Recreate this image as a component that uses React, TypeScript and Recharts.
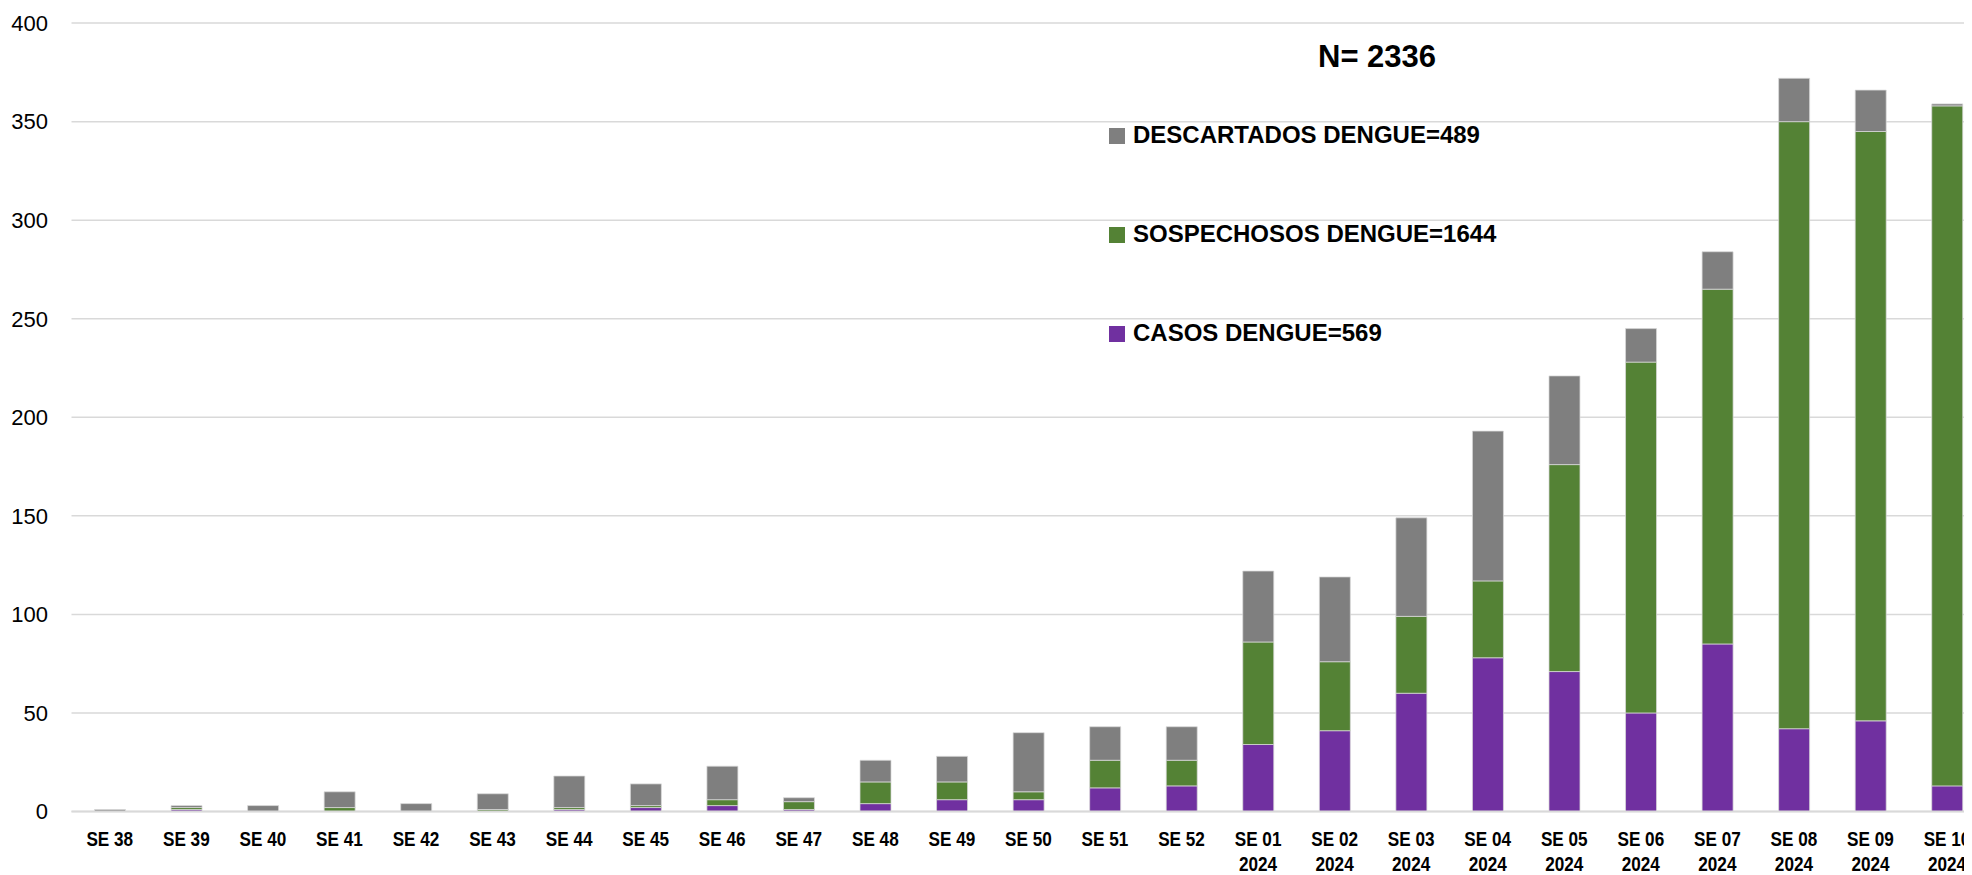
import React from 'react';
import { BarChart, Bar, XAxis, YAxis, CartesianGrid, Legend } from 'recharts';

const categories = [
  'SE 38', 'SE 39', 'SE 40', 'SE 41', 'SE 42', 'SE 43', 'SE 44', 'SE 45', 'SE 46', 'SE 47',
  'SE 48', 'SE 49', 'SE 50', 'SE 51', 'SE 52',
  'SE 01\n2024', 'SE 02\n2024', 'SE 03\n2024', 'SE 04\n2024', 'SE 05\n2024',
  'SE 06\n2024', 'SE 07\n2024', 'SE 08\n2024', 'SE 09\n2024', 'SE 10\n2024',
];

const casos = [0, 1, 0, 0, 0, 0, 1, 2, 3, 1, 4, 6, 6, 12, 13, 34, 41, 60, 78, 71, 50, 85, 42, 46, 13];
const sospechosos = [0, 1, 0, 2, 0, 1, 1, 1, 3, 4, 11, 9, 4, 14, 13, 52, 35, 39, 39, 105, 178, 180, 308, 299, 345];
const descartados = [1, 1, 3, 8, 4, 8, 16, 11, 17, 2, 11, 13, 30, 17, 17, 36, 43, 50, 76, 45, 17, 19, 22, 21, 1];

const yTicks = [0, 50, 100, 150, 200, 250, 300, 350, 400];

const legendNames = ['DESCARTADOS DENGUE=489', 'SOSPECHOSOS DENGUE=1644', 'CASOS DENGUE=569'];
const legendColors = ['#7F7F7F', '#548235', '#7030A0'];
const totalLabel = 'N= 2336';

const data = categories.map((c, i) => ({
  cat: c,
  casos: casos[i],
  sosp: sospechosos[i],
  desc: descartados[i],
}));

const FONT = "'Liberation Sans', Arial, sans-serif";

const XTick = (props: any) => {
  const { x, y, payload } = props;
  const lines = String(payload.value).split('\n');
  return (
    <g transform={`translate(${x},0) scale(0.88,1)`}>
      <text x={0} y={y} textAnchor="middle" fontFamily={FONT} fontWeight={700} fontSize={19.5} fill="#000">
        {lines.map((l, i) => (
          <tspan key={i} x={0} y={y + 35 + i * 24.5}>{l}</tspan>
        ))}
      </text>
    </g>
  );
};

const renderLegend = () => (
  <div style={{ position: 'absolute', left: 0, top: 0, width: 1990, height: 875, fontFamily: FONT }}>
    <div style={{ position: 'absolute', left: 1318, top: 40.5, fontSize: 31, fontWeight: 700, lineHeight: '1', whiteSpace: 'nowrap', color: '#000' }}>
      {totalLabel}
    </div>
    {legendNames.map((n, i) => (
      <div key={n}>
        <div style={{ position: 'absolute', left: 1109, top: 128 + i * 99.2, width: 16, height: 16, background: legendColors[i] }} />
        <div style={{ position: 'absolute', left: 1133, top: 123 + i * 99.2, fontSize: 24, fontWeight: 700, lineHeight: '1', whiteSpace: 'nowrap', color: '#000' }}>
          {n}
        </div>
      </div>
    ))}
  </div>
);

export default function App() {
  return (
    <div style={{ marginLeft: -8, marginTop: -8, width: 1972, height: 875, overflow: 'hidden', position: 'relative', background: '#fff' }}>
      <BarChart
        width={1990}
        height={875}
        data={data}
        margin={{ top: 23.1, right: 4.7, left: 11.5, bottom: 13.5 }}
        barSize={31}
      >
        <CartesianGrid vertical={false} stroke="#d9d9d9" strokeWidth={1.5} />
        <XAxis
          dataKey="cat"
          interval={0}
          height={50}
          tickSize={0}
          tickMargin={0}
          tickLine={false}
          axisLine={{ stroke: '#d9d9d9', strokeWidth: 2 }}
          tick={<XTick />}
        />
        <YAxis
          width={60}
          domain={[0, 400]}
          ticks={yTicks}
          axisLine={false}
          tickLine={false}
          tickSize={0}
          tickMargin={23.5}
          tick={{ fontFamily: FONT, fontSize: 22, fill: '#000' }}
        />
        <Legend
          layout="vertical"
          align="center"
          verticalAlign="middle"
          content={renderLegend}
          wrapperStyle={{ position: 'absolute', left: 0, top: 0, width: 1990, height: 875, pointerEvents: 'none' }}
        />
        <Bar dataKey="casos" stackId="a" fill="#7030A0" stroke="#d9d9d9" strokeWidth={0.75} isAnimationActive={false} />
        <Bar dataKey="sosp" stackId="a" fill="#548235" stroke="#d9d9d9" strokeWidth={0.75} isAnimationActive={false} />
        <Bar dataKey="desc" stackId="a" fill="#7F7F7F" stroke="#d9d9d9" strokeWidth={0.75} isAnimationActive={false} />
      </BarChart>
    </div>
  );
}
